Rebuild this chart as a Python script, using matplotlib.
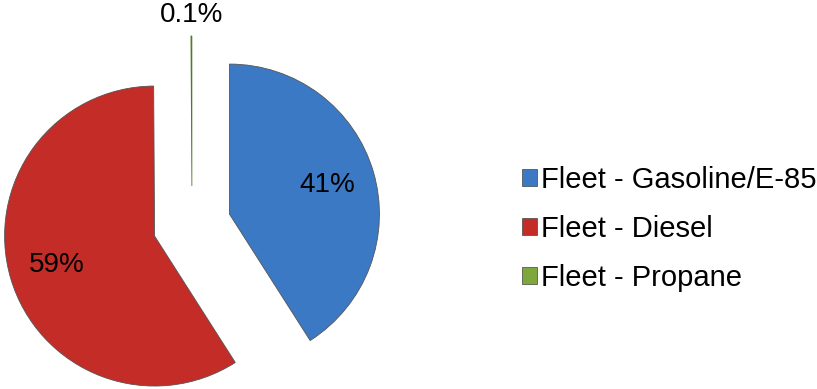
import matplotlib
matplotlib.use("Agg")
import matplotlib.pyplot as plt
from matplotlib.patches import Patch
import numpy as np

categories = ["Fleet - Gasoline/E-85", "Fleet - Diesel", "Fleet - Propane"]
shares = [41, 59, 0.1]
colors = ["#3b79c4", "#c42c28", "#7fa83c"]

plt.rcParams["font.family"] = ["Liberation Sans", "DejaVu Sans"]

W, H = 817, 389
fig = plt.figure(figsize=(W / 100, H / 100), dpi=100)
ax = fig.add_axes([0, 0, 1, 1])

center = (192, H - 225)
radius = 150
# pie explode offsets are in data units (pixels here)
explode = [39, 39, 39]


def fmt(p):
    return f"{p:.0f}%" if p >= 1 else f"{p:.1f}%"


wedges, texts, autotexts = ax.pie(
    shares, colors=colors, startangle=90, counterclock=False,
    explode=explode, center=center, radius=radius, autopct=fmt,
    pctdistance=0.68, textprops={"fontsize": 20, "color": "black"},
    wedgeprops={"linewidth": 0.6, "edgecolor": "#555555"}, frame=True,
)
ax.set_xlim(0, W)
ax.set_ylim(0, H)
ax.set_aspect("equal")
ax.axis("off")

# small slice label sits outside the wedge
w = wedges[2]
ang = np.deg2rad((w.theta1 + w.theta2) / 2)
cx, cy = w.center
autotexts[2].set_position((cx + 1.14 * radius * np.cos(ang), cy + 1.14 * radius * np.sin(ang)))
wedges[2].set_edgecolor("#4f7a2a")

handles = [Patch(facecolor=c, edgecolor="#444444", linewidth=0.5) for c in colors]
ax.legend(handles, categories, loc="center left", bbox_to_anchor=(522 / W, 160 / H),
          bbox_transform=fig.transFigure, frameon=False, fontsize=21,
          handlelength=0.5, handleheight=0.5, handletextpad=0.15,
          labelspacing=0.72, borderpad=0, borderaxespad=0)

fig.savefig("out.png", dpi=100)
